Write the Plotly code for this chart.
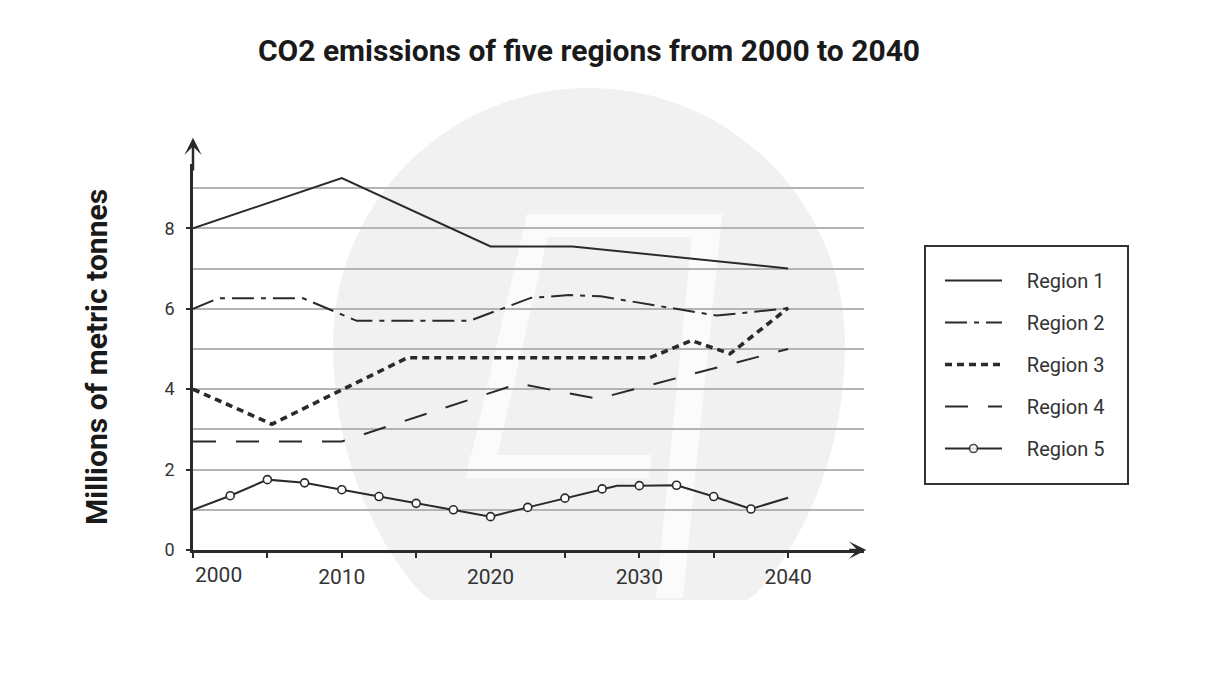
import numpy as np
import plotly.graph_objects as go

# ---------------- data ----------------
title_text = "CO2 emissions of five regions from 2000 to 2040"
y_title = "Millions of metric tonnes"
series_names = ["Region 1", "Region 2", "Region 3", "Region 4", "Region 5"]

r1_x = [2000, 2010, 2020, 2025.5, 2040]
r1_y = [8.0, 9.25, 7.55, 7.55, 7.0]

r2_x = [2000, 2001.7, 2007.4, 2011, 2018.6, 2022.7, 2025.3, 2027.4, 2035.2, 2040]
r2_y = [6.0, 6.26, 6.26, 5.7, 5.7, 6.27, 6.34, 6.31, 5.83, 6.01]

r3_x = [2000, 2005.3, 2014.4, 2030.7, 2033.5, 2036.1, 2040]
r3_y = [4.0, 3.13, 4.78, 4.78, 5.21, 4.88, 6.02]

r4_x = [2000, 2010, 2021.9, 2027.2, 2040]
r4_y = [2.7, 2.7, 4.14, 3.76, 5.0]

r5_x = [2000, 2002.5, 2005, 2007.5, 2010, 2012.5, 2015, 2017.5, 2020, 2022.5,
        2025, 2027.5, 2028.5, 2030, 2032.5, 2035, 2037.5, 2040]
r5_y = [1.0, 1.35, 1.75, 1.67, 1.5, 1.33, 1.16, 1.0, 0.83, 1.06,
        1.29, 1.52, 1.6, 1.6, 1.61, 1.33, 1.02, 1.3]
r5_marked = [0, 1, 1, 1, 1, 1, 1, 1, 1, 1, 1, 1, 0, 1, 1, 1, 1, 0]

x_tick_vals = [2000, 2005, 2010, 2015, 2020, 2025, 2030, 2035, 2040]
x_tick_text = ["", "", "2010", "", "2020", "", "2030", "", "2040"]
first_year_label = "2000"
y_tick_vals = [0, 2, 4, 6, 8]
y_tick_text = ["0", "2", "4", "6", "8"]

# ---------------- layout geometry ----------------
W_FIG, H_FIG = 1213, 694
L, R, T, B = 193, 349, 164, 144
PW = W_FIG - L - R
PH = H_FIG - T - B
PB = H_FIG - B  # pixel y of plot bottom

def fx(px):
    return (px - L) / PW

def fy(py):
    return (PB - py) / PH

def poly_path(pts):
    return "M " + " L ".join(f"{fx(a):.5f},{fy(b):.5f}" for a, b in pts) + " Z"

INK = "#2a2a2a"
TXT = "#333333"
FONT = "Roboto"
PAD = "\u00a0" * 4  # gap between legend symbol and label

fig = go.Figure()

common = dict(mode="lines", cliponaxis=False)
fig.add_trace(go.Scatter(x=r1_x, y=r1_y, name=PAD + series_names[0], legendgroup="g1",
                         line=dict(color=INK, width=2), **common))
fig.add_trace(go.Scatter(x=r2_x, y=r2_y, name=PAD + series_names[1], legendgroup="g2",
                         line=dict(color=INK, width=2, dash="22px,7px,5px,7px"), **common))
fig.add_trace(go.Scatter(x=r3_x, y=r3_y, name=PAD + series_names[2], legendgroup="g3",
                         line=dict(color=INK, width=3.6, dash="7px,5px"), **common))
fig.add_trace(go.Scatter(x=r4_x, y=r4_y, name=PAD + series_names[3], legendgroup="g4",
                         line=dict(color=INK, width=2, dash="23px,20px"), **common))
fig.add_trace(go.Scatter(x=r5_x, y=r5_y, name=PAD + series_names[4], legendgroup="g5",
                         mode="lines+markers", cliponaxis=False,
                         line=dict(color=INK, width=2),
                         marker=dict(symbol="circle", size=8, color="white",
                                     opacity=[float(m) for m in r5_marked],
                                     line=dict(color=INK, width=1.6))))

# ---------------- watermark ----------------
cx, cy, rad = 589, 344, 256
ry_bottom = 330
pts = []
for t in np.linspace(np.pi, 2 * np.pi, 60):
    pts.append((cx + rad * np.cos(t), cy + rad * np.sin(t)))
for t in np.linspace(0, np.pi, 60):
    py = cy + ry_bottom * np.sin(t)
    pts.append((cx + rad * np.cos(t), min(py, 600)))
shapes = [dict(type="path", xref="paper", yref="paper", path=poly_path(pts),
               fillcolor="#f1f1f1", line=dict(width=0), layer="below")]
logo_parts = [
    [(527, 214), (712, 214), (709, 237), (523, 237)],
    [(527, 214), (553, 214), (492, 478), (466, 478)],
    [(470, 455), (652, 455), (648, 478), (466, 478)],
    [(694, 214), (722, 214), (683, 598), (656, 598)],
]
for part in logo_parts:
    shapes.append(dict(type="path", xref="paper", yref="paper", path=poly_path(part),
                       fillcolor="#fbfbfb", line=dict(width=0), layer="below"))
shapes.append(dict(type="rect", xref="paper", yref="paper",
                   x0=fx(925), x1=fx(1128), y0=fy(484), y1=fy(246),
                   line=dict(color=TXT, width=2), fillcolor="rgba(0,0,0,0)", layer="below"))

# ---------------- annotations ----------------
annotations = [
    dict(x=2000, y=10.25, ax=2000, ay=9.4, xref="x", yref="y", axref="x", ayref="y",
         text="", showarrow=True, arrowhead=3, arrowwidth=2.5, arrowsize=1.15,
         arrowcolor=INK, standoff=0, startstandoff=0),
    dict(x=2045.25, y=0, ax=2044.0, ay=0, xref="x", yref="y", axref="x", ayref="y",
         text="", showarrow=True, arrowhead=3, arrowwidth=2.5, arrowsize=1.15,
         arrowcolor=INK, standoff=0, startstandoff=0),
    dict(x=x_tick_vals[0], y=0, xref="x", yref="paper", text=first_year_label,
         showarrow=False, xanchor="left", yanchor="top", yshift=-11,
         font=dict(family=FONT, size=21, color=TXT)),
    dict(x=fx(96), y=0.5, xref="paper", yref="paper", text=f"<b>{y_title}</b>",
         showarrow=False, textangle=-90, xanchor="center", yanchor="middle",
         font=dict(family=FONT, size=30, color="#1a1a1a")),
]

fig.update_layout(
    width=W_FIG, height=H_FIG,
    margin=dict(l=L, r=R, t=T, b=B, autoexpand=False),
    paper_bgcolor="white", plot_bgcolor="rgba(0,0,0,0)",
    title=dict(text=f"<b>{title_text}</b>", x=fx(589), xref="paper", xanchor="center",
               y=1 - 50 / H_FIG, yref="container", yanchor="middle",
               font=dict(family=FONT, size=30, color="#1a1a1a")),
    shapes=shapes,
    annotations=annotations,
    showlegend=True,
    legend=dict(x=fx(940), y=fy(261), xanchor="left", yanchor="top",
                bgcolor="rgba(0,0,0,0)", borderwidth=0,
                font=dict(family=FONT, size=20, color=TXT),
                itemwidth=57, tracegroupgap=13, traceorder="grouped"),
    xaxis=dict(range=[2000, 2045.1], showgrid=False, zeroline=False,
               showline=True, linecolor=INK, linewidth=2.5,
               tickmode="array", tickvals=x_tick_vals, ticktext=x_tick_text,
               ticks="outside", ticklen=5, tickwidth=1.6, tickcolor=INK,
               ticklabelstandoff=1,
               tickfont=dict(family=FONT, size=21, color=TXT)),
    yaxis=dict(range=[0, 9.6], zeroline=False,
               showline=True, linecolor=INK, linewidth=2.5,
               tickmode="array", tickvals=y_tick_vals, ticktext=y_tick_text,
               ticks="outside", ticklen=4, tickwidth=1.6, tickcolor=INK,
               ticklabelstandoff=8,
               showgrid=True, gridcolor="#b4b4b4", gridwidth=1.8,
               minor=dict(dtick=1, tick0=0, showgrid=True, gridcolor="#b4b4b4",
                          gridwidth=1.8, ticks=""),
               tickfont=dict(family=FONT, size=18, color=TXT)),
)

fig.write_html("out.html")
